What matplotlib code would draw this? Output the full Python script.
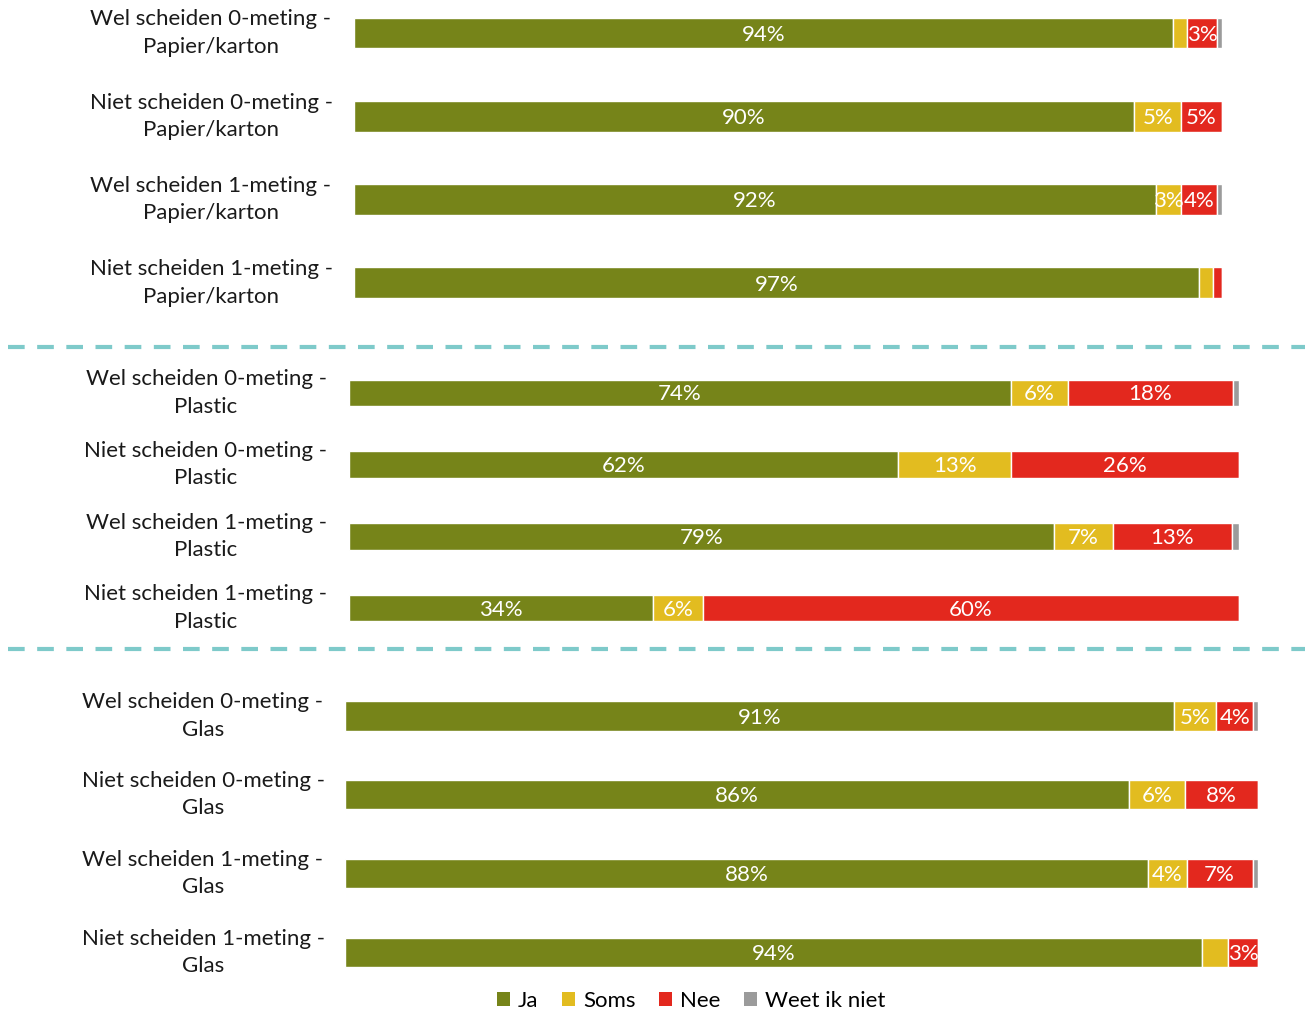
import matplotlib
matplotlib.use("Agg")
import matplotlib.pyplot as plt
import matplotlib.transforms as mtrans
from matplotlib.patches import Patch
import numpy as np

plt.rcParams['font.family'] = ['Lato', 'DejaVu Sans']

series = ["Ja", "Soms", "Nee", "Weet ik niet"]
colors = ["#768419", "#E2BC20", "#E3281E", "#9B9B9B"]

labels_papier = ["Wel scheiden 0-meting -\nPapier/karton", "Niet scheiden 0-meting -\nPapier/karton",
                 "Wel scheiden 1-meting -\nPapier/karton", "Niet scheiden 1-meting -\nPapier/karton"]
ja_papier = [94.4, 89.9, 92.4, 97.3]
soms_papier = [1.6, 5.4, 2.9, 1.7]
nee_papier = [3.4, 4.7, 4.1, 1.0]
weet_papier = [0.6, 0.0, 0.6, 0.0]

labels_plastic = ["Wel scheiden 0-meting -\nPlastic", "Niet scheiden 0-meting -\nPlastic",
                  "Wel scheiden 1-meting -\nPlastic", "Niet scheiden 1-meting -\nPlastic"]
ja_plastic = [74.4, 61.7, 79.2, 34.2]
soms_plastic = [6.4, 12.7, 6.6, 5.6]
nee_plastic = [18.5, 25.6, 13.4, 60.2]
weet_plastic = [0.7, 0.0, 0.8, 0.0]

labels_glas = ["Wel scheiden 0-meting -\nGlas", "Niet scheiden 0-meting -\nGlas",
               "Wel scheiden 1-meting -\nGlas", "Niet scheiden 1-meting -\nGlas"]
ja_glas = [90.8, 85.9, 88.0, 93.9]
soms_glas = [4.6, 6.1, 4.2, 2.8]
nee_glas = [4.1, 8.0, 7.2, 3.3]
weet_glas = [0.5, 0.0, 0.6, 0.0]

W, H = 1310, 1014
fig = plt.figure(figsize=(W / 100, H / 100), dpi=100)

# (labels, data, x0 px, x1 px, first center px, spacing px, label center px)
panels = [
    (labels_papier, [ja_papier, soms_papier, nee_papier, weet_papier], 354, 1222, 33, 83.3, 211),
    (labels_plastic, [ja_plastic, soms_plastic, nee_plastic, weet_plastic], 349, 1239, 393, 71.7, 206),
    (labels_glas, [ja_glas, soms_glas, nee_glas, weet_glas], 345, 1258, 716, 78.7, 203),
]

for cats, data, x0, x1, c0, sp, lx in panels:
    top = c0 - sp / 2
    ax = fig.add_axes([x0 / W, 1 - (top + 4 * sp) / H, (x1 - x0) / W, 4 * sp / H])
    ax.set_xlim(0, 100)
    ax.set_ylim(3.5, -0.5)
    ax.axis("off")
    y = np.arange(len(cats))
    left = np.zeros(len(cats))
    for vals, col in zip(data, colors):
        vals = np.array(vals)
        ax.barh(y, vals, left=left, height=0.37, color=col, edgecolor="white", linewidth=1)
        for yi, l, v in zip(y, left, vals):
            if v >= 2.9:
                ax.text(l + v / 2, yi + 0.02, f"{round(v)}%", ha="center", va="center",
                        color="white", fontsize=16)
        left += vals
    tr = mtrans.blended_transform_factory(fig.transFigure, ax.transData)
    for yi, c in zip(y, cats):
        ax.text(lx / W, yi, c, transform=tr, ha="center", va="center",
                fontsize=16, linespacing=1.45, color="#1a1a1a")

for ly in [347, 649]:
    fig.add_artist(plt.Line2D([8 / W, 1305 / W], [1 - ly / H, 1 - ly / H],
                              color="#7ECACA", linewidth=3, linestyle=(0, (4, 3))))

handles = [Patch(facecolor=c, edgecolor="none") for c in colors]
fig.legend(handles, series, loc="center", bbox_to_anchor=(691 / W, 1 - 1001 / H),
           ncol=4, frameon=False, fontsize=16, handlelength=0.6, handleheight=0.6,
           handletextpad=0.35, columnspacing=1.05)

fig.savefig("out.png", dpi=100)
